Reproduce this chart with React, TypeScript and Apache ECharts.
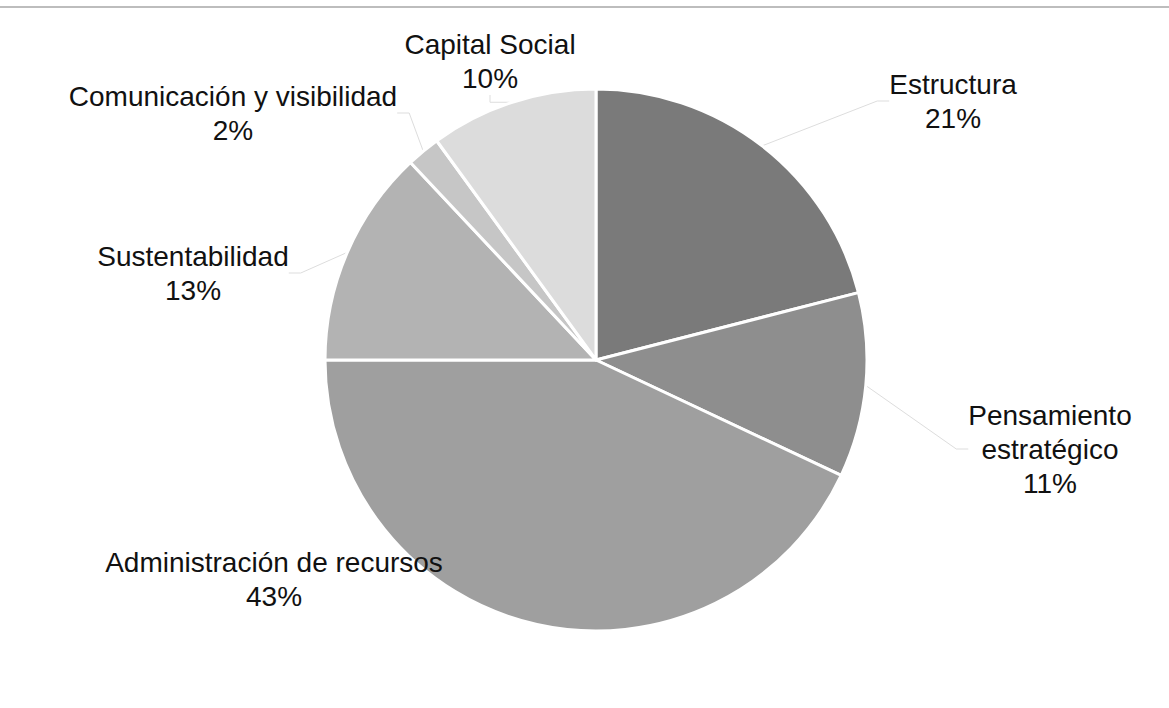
import React, { useEffect, useRef } from "react";
import * as echarts from "echarts";

const categories = [
  "Estructura",
  "Pensamiento\nestratégico",
  "Administración de recursos",
  "Sustentabilidad",
  "Comunicación y visibilidad",
  "Capital Social",
];
const values = [21, 11, 43, 13, 2, 10];
const colors = ["#7a7a7a", "#8e8e8e", "#9f9f9f", "#b3b3b3", "#c6c6c6", "#dcdcdc"];

// label anchor positions (layout only)
const labelPos = [
  [953, 101],
  [1050, 449],
  [274, 579],
  [193, 273],
  [233, 113],
  [490, 61],
];

export default function App() {
  const ref = useRef<HTMLDivElement>(null);
  useEffect(() => {
    document.body.style.margin = "0";
    const chart = echarts.init(ref.current!, undefined, { renderer: "svg" });
    chart.setOption({
      animation: false,
      backgroundColor: "#ffffff",
      graphic: [
        {
          type: "line",
          shape: { x1: 0, y1: 7, x2: 1169, y2: 7 },
          style: { stroke: "#bdbdbd", lineWidth: 2 },
        },
      ],
      series: [
        {
          type: "pie",
          center: [596, 360],
          radius: 271,
          startAngle: 90,
          clockwise: true,
          data: categories.map((c, i) => ({
            name: c,
            value: values[i],
            itemStyle: { color: colors[i] },
          })),
          itemStyle: { borderColor: "#ffffff", borderWidth: 3 },
          label: {
            show: true,
            position: "outside",
            formatter: (p: any) => `${p.name}\n${p.value}%`,
            fontFamily: "Liberation Sans, Arial, sans-serif",
            fontSize: 28,
            lineHeight: 34,
            color: "#111111",
            align: "center",
          },
          labelLine: {
            show: true,
            length: 12,
            length2: 12,
            lineStyle: { color: "#dddddd", width: 1 },
          },
          labelLayout: (params: any) => {
            const p = labelPos[params.dataIndex];
            return { x: p[0], y: p[1], align: "center", verticalAlign: "middle" };
          },
        },
      ],
    });
    return () => chart.dispose();
  }, []);
  return <div ref={ref} style={{ width: 1169, height: 708 }} />;
}
